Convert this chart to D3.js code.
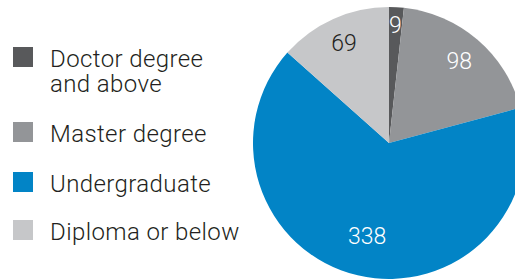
<!DOCTYPE html>
<html>
<head>
<meta charset="utf-8">
<script src="https://cdn.jsdelivr.net/npm/d3@7"></script>
<style>
    body { margin: 0; background: #fff; }
    svg { display: block; font-family: Roboto, "Liberation Sans", sans-serif; font-weight: 300; }
</style>
</head>
<body>
<div id="chart"></div>
<script>
// education breakdown, clockwise from 12 o'clock
const categories = ["Doctor degree and above", "Master degree", "Undergraduate", "Diploma or below"];
const legendLines = [["Doctor degree", "and above"], ["Master degree"], ["Undergraduate"], ["Diploma or below"]];
const values = [9, 98, 338, 69];
const colors = ["#58595b", "#939598", "#0284c6", "#c6c7c9"];
const labelColors = ["#fff", "#fff", "#fff", "#231f20"];

const WIDTH = 515, HEIGHT = 279;
const CX = 389, CY = 143, RADIUS = 136;
// labels don't sit on a common ring in the original
const labelRadius = [118, 108, 95, 110];

let svg = d3.select("#chart")
    .append("svg")
    .attr("width", WIDTH)
    .attr("height", HEIGHT);

let pie = d3.pie().sort(null).value(function (d) { return d; });
let arcs = pie(values);
let arc = d3.arc().innerRadius(0).outerRadius(RADIUS);

let g = svg.append("g")
    .attr("transform", "translate(" + CX + "," + CY + ")");

g.selectAll("path")
    .data(arcs)
    .enter()
    .append("path")
    .attr("d", arc)
    .attr("fill", function (d, i) { return colors[i]; });

g.selectAll("text")
    .data(arcs)
    .enter()
    .append("text")
    .attr("transform", function (d, i) {
        let c = d3.arc().innerRadius(labelRadius[i]).outerRadius(labelRadius[i]).centroid(d);
        return "translate(" + c[0] + "," + c[1] + ")";
    })
    .attr("text-anchor", "middle")
    .attr("dy", "0.36em")
    .attr("font-size", 23)
    .attr("fill", function (d, i) { return labelColors[i]; })
    .text(function (d) { return d.data; });

// legend
const legendY = [47, 122, 172, 220];
let legend = svg.append("g");
let items = legend.selectAll("g")
    .data(categories)
    .enter()
    .append("g")
    .attr("transform", function (d, i) { return "translate(13," + legendY[i] + ")"; });

items.append("rect")
    .attr("width", 20)
    .attr("height", 20)
    .attr("fill", function (d, i) { return colors[i]; });

items.append("text")
    .attr("x", 37)
    .attr("y", 20)
    .attr("font-size", 24)
    .attr("letter-spacing", 0.4)
    .attr("fill", "#231f20")
    .selectAll("tspan")
    .data(function (d, i) { return legendLines[i]; })
    .enter()
    .append("tspan")
    .attr("x", 37)
    .attr("dy", function (d, j) { return j === 0 ? 0 : 25; })
    .text(function (d) { return d; });
</script>
</body>
</html>
